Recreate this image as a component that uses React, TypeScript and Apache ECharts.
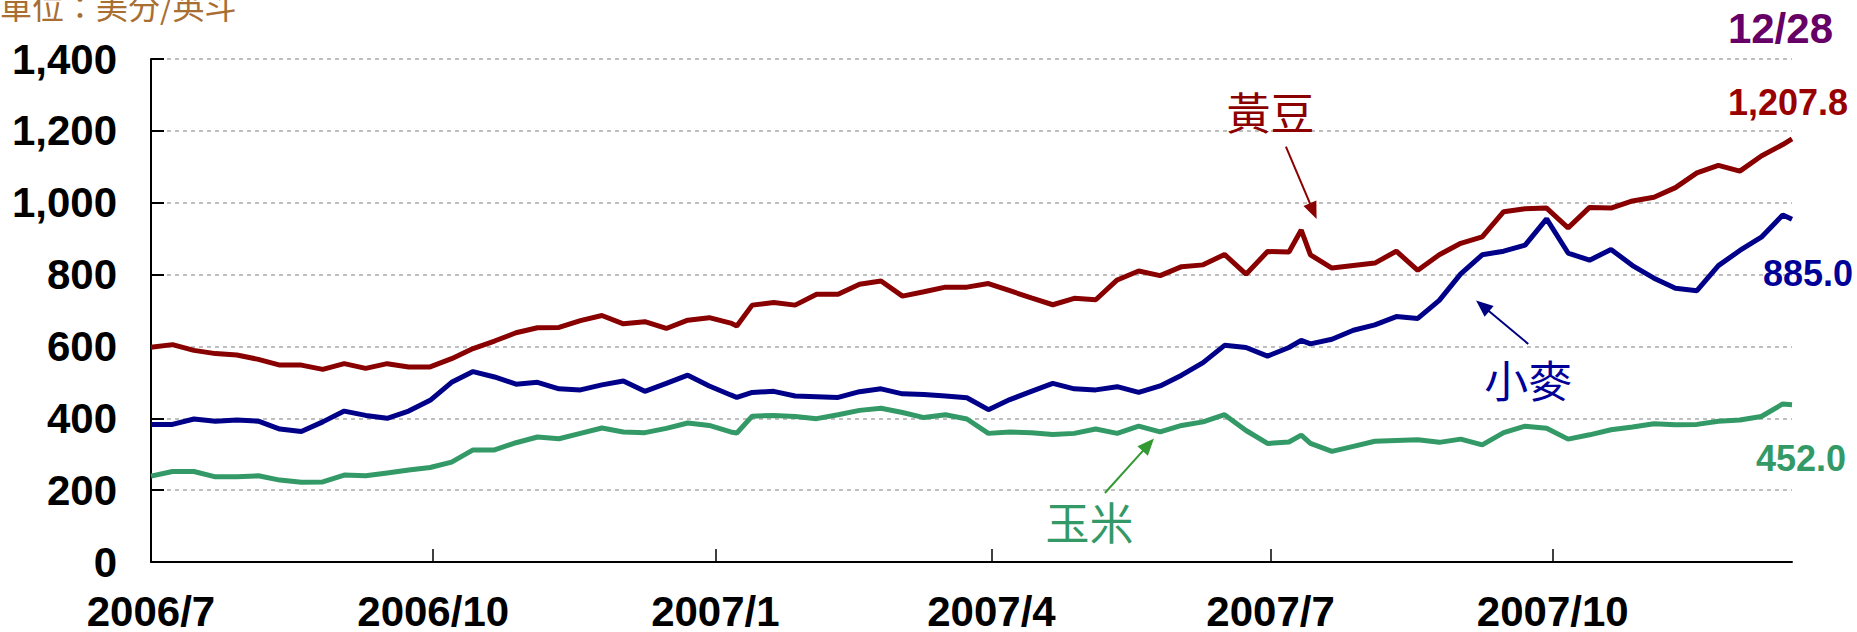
import React, { useEffect, useRef } from "react";
import * as echarts from "echarts";

// ---- data ----
const dates = [
  "2006-07-01", "2006-07-08", "2006-07-15", "2006-07-22", "2006-07-29",
  "2006-08-05", "2006-08-12", "2006-08-19", "2006-08-26",
  "2006-09-02", "2006-09-09", "2006-09-16", "2006-09-23", "2006-09-30",
  "2006-10-07", "2006-10-14", "2006-10-21", "2006-10-28",
  "2006-11-04", "2006-11-11", "2006-11-18", "2006-11-25",
  "2006-12-02", "2006-12-09", "2006-12-16", "2006-12-23", "2006-12-30",
  "2007-01-06", "2007-01-08", "2007-01-13", "2007-01-20", "2007-01-27",
  "2007-02-03", "2007-02-10", "2007-02-17", "2007-02-24",
  "2007-03-03", "2007-03-10", "2007-03-17", "2007-03-24", "2007-03-31",
  "2007-04-07", "2007-04-14", "2007-04-21", "2007-04-28",
  "2007-05-05", "2007-05-12", "2007-05-19", "2007-05-26",
  "2007-06-02", "2007-06-09", "2007-06-16", "2007-06-23", "2007-06-30",
  "2007-07-07", "2007-07-11", "2007-07-14", "2007-07-21", "2007-07-28",
  "2007-08-04", "2007-08-11", "2007-08-18", "2007-08-25",
  "2007-09-01", "2007-09-08", "2007-09-15", "2007-09-22", "2007-09-29",
  "2007-10-06", "2007-10-13", "2007-10-20", "2007-10-27",
  "2007-11-03", "2007-11-10", "2007-11-17", "2007-11-24",
  "2007-12-01", "2007-12-08", "2007-12-15", "2007-12-18",
];

const soybean = [
  598, 605, 589, 580, 576,
  564, 548, 548, 536,
  552, 539, 552, 543, 543,
  566, 594, 615, 638,
  652, 653, 672, 686,
  663, 669, 650, 673, 680,
  665, 657, 715, 722, 715,
  745, 745, 773, 782,
  740, 752, 765, 765, 775,
  755, 735, 716, 734,
  730, 785, 810, 797,
  822, 827, 856, 801, 864,
  863, 924, 855, 818, 825,
  832, 865, 812, 855,
  887, 905, 975, 983, 985,
  930, 987, 985, 1005,
  1015, 1042, 1083, 1104,
  1088, 1130, 1162, 1178,
];

const wheat = [
  383, 383, 398, 392, 395,
  392, 370, 363, 390,
  420, 408, 400, 420, 450,
  500, 530, 515, 495,
  500, 482, 479, 493,
  504, 475, 497, 520, 490,
  465, 458, 472, 475, 462,
  460, 458, 474, 482,
  468, 466, 462, 457, 424,
  452, 475, 497, 482,
  479, 488, 472, 490,
  520, 555, 603, 597, 573,
  597, 617, 607, 620, 645,
  660, 683, 678, 728,
  802, 855, 865, 882, 955,
  860, 840, 870, 825,
  790, 762, 755, 825,
  867, 904, 966, 954,
];

const corn = [
  239, 252, 252, 237, 237,
  240, 228, 222, 223,
  242, 240, 248, 256, 263,
  278, 312, 312, 332,
  348, 343, 358, 373,
  362, 360, 372, 387, 380,
  362, 359, 406, 408, 405,
  399, 410, 422, 428,
  416, 402, 410, 398, 358,
  362, 360, 355, 358,
  370, 358, 378, 362,
  380, 390, 410, 366, 330,
  334, 353, 330, 308, 322,
  336, 338, 340, 333,
  342, 326, 360, 378, 372,
  342, 354, 368, 376,
  385, 382, 383, 392,
  395, 405, 440, 438,
];

const xTickDates = ["2006-07-01", "2006-10-01", "2007-01-01", "2007-04-01", "2007-07-01", "2007-10-01"];
const yMin = 0;
const yMax = 1400;
const yStep = 200;

const unitText = "單位：美分/英斗";
const lastDateText = "12/28";
const soybeanLast = "1,207.8";
const wheatLast = "885.0";
const cornLast = "452.0";

const seriesNames = ["玉米", "小麥", "黃豆"];
const seriesColors = ["#339966", "#000088", "#880000"];

// annotation anchors in data space: label centre, arrow tail, arrow tip
const annoLabels = ["黃豆", "小麥", "玉米"];
const annoColors = ["#8B0000", "#000099", "#339966"];
const annoArrowColors = ["#8B0000", "#000080", "#339933"];
const annoTextDates = ["2007-07-01", "2007-09-23", "2007-05-03"];
const annoTextValues = [1256, 510, 115];
const annoTailDates = ["2007-07-06", "2007-09-23", "2007-05-08"];
const annoTailValues = [1156, 607, 192];
const annoTipDates = ["2007-07-16", "2007-09-06", "2007-05-24"];
const annoTipValues = [955, 728, 344];

const toTs = (s: string) => {
  const [y, m, d] = s.split("-").map(Number);
  return Date.UTC(y, m - 1, d);
};

const fmtThousands = (v: number) => {
  const s = String(Math.round(v));
  return s.replace(/\B(?=(\d{3})+(?!\d))/g, ",");
};

const LATIN = 'Arial, "Liberation Sans", Helvetica, sans-serif';
const CJK = '"Noto Sans CJK TC", "Noto Sans CJK SC", sans-serif';

export default function App() {
  const ref = useRef<HTMLDivElement>(null);

  useEffect(() => {
    document.body.style.margin = "0";
    if (!ref.current) return;
    const chart = echarts.init(ref.current, undefined, { renderer: "svg" });
    const tickTs = xTickDates.map(toTs);
    const seriesData = [corn, wheat, soybean].map((arr) =>
      arr.map((v, i) => [toTs(dates[i]), v])
    );

    chart.setOption({
      animation: false,
      backgroundColor: "#ffffff",
      grid: { left: 151, top: 59, width: 1641, height: 508 },
      xAxis: {
        type: "value",
        min: toTs(dates[0]),
        max: toTs(dates[dates.length - 1]),
        axisLine: { show: true, onZero: false, lineStyle: { color: "#000", width: 2 } },
        axisTick: {
          show: true,
          inside: true,
          length: 13,
          customValues: tickTs,
          lineStyle: { color: "#000", width: 1.5 },
        },
        axisLabel: {
          customValues: tickTs,
          hideOverlap: false,
          fontSize: 42,
          fontWeight: "bold",
          fontFamily: LATIN,
          color: "#000",
          margin: 34,
          lineHeight: 30,
          formatter: (v: number) => {
            const d = new Date(v);
            return `${d.getUTCFullYear()}/${d.getUTCMonth() + 1}`;
          },
        },
        splitLine: { show: false },
      },
      yAxis: {
        type: "value",
        min: yMin,
        max: yMax,
        interval: yStep,
        axisLine: { show: true, lineStyle: { color: "#000", width: 2 } },
        axisTick: { show: true, inside: true, length: 13, lineStyle: { color: "#000", width: 2 } },
        axisLabel: {
          fontSize: 42,
          fontWeight: "bold",
          fontFamily: LATIN,
          color: "#000",
          margin: 34,
          formatter: (v: number) => fmtThousands(v),
        },
        splitLine: { show: true, lineStyle: { color: "#BFBFBF", width: 2, type: [4, 4] } },
      },
      series: seriesData.map((data, i) => ({
        name: seriesNames[i],
        type: "line",
        data,
        symbol: "none",
        smooth: false,
        lineStyle: { color: seriesColors[i], width: 5 },
        itemStyle: { color: seriesColors[i] },
        z: 2 + i,
      })),
    });

    const px = (date: string, v: number) =>
      chart.convertToPixel({ gridIndex: 0 }, [toTs(date), v]) as number[];

    const graphics: any[] = [];
    annoLabels.forEach((label, i) => {
      const c = px(annoTextDates[i], annoTextValues[i]);
      graphics.push({
        type: "text",
        x: c[0],
        y: c[1],
        style: {
          text: label,
          fill: annoColors[i],
          font: `44px ${CJK}`,
          textAlign: "center",
          textVerticalAlign: "middle",
        },
        z: 10,
      });
      const t = px(annoTailDates[i], annoTailValues[i]);
      const h = px(annoTipDates[i], annoTipValues[i]);
      const dx = h[0] - t[0];
      const dy = h[1] - t[1];
      const len = Math.sqrt(dx * dx + dy * dy);
      const ux = dx / len;
      const uy = dy / len;
      const L = 17;
      const W = 7;
      const bx = h[0] - ux * L;
      const by = h[1] - uy * L;
      graphics.push({
        type: "line",
        shape: { x1: t[0], y1: t[1], x2: bx + ux * 2, y2: by + uy * 2 },
        style: { stroke: annoArrowColors[i], lineWidth: 2 },
        z: 10,
      });
      graphics.push({
        type: "polygon",
        shape: {
          points: [
            [h[0], h[1]],
            [bx - uy * W, by + ux * W],
            [bx + uy * W, by - ux * W],
          ],
        },
        style: { fill: annoArrowColors[i] },
        z: 10,
      });
    });

    graphics.push(
      {
        type: "text",
        x: 0,
        y: 5,
        style: {
          text: unitText,
          fill: "#A86E32",
          font: `32px ${CJK}`,
          textAlign: "left",
          textVerticalAlign: "middle",
        },
      },
      {
        type: "text",
        x: 1833,
        y: 28,
        style: {
          text: lastDateText,
          fill: "#660066",
          font: `bold 42px ${LATIN}`,
          textAlign: "right",
          textVerticalAlign: "middle",
        },
      },
      {
        type: "text",
        x: 1848,
        y: 102,
        style: {
          text: soybeanLast,
          fill: "#990000",
          font: `bold 36px ${LATIN}`,
          textAlign: "right",
          textVerticalAlign: "middle",
        },
      },
      {
        type: "text",
        x: 1853,
        y: 273,
        style: {
          text: wheatLast,
          fill: "#000099",
          font: `bold 36px ${LATIN}`,
          textAlign: "right",
          textVerticalAlign: "middle",
        },
      },
      {
        type: "text",
        x: 1846,
        y: 458,
        style: {
          text: cornLast,
          fill: "#339966",
          font: `bold 36px ${LATIN}`,
          textAlign: "right",
          textVerticalAlign: "middle",
        },
      }
    );

    chart.setOption({ graphic: graphics });

    return () => chart.dispose();
  }, []);

  return (
    <div
      ref={ref}
      style={{ position: "absolute", left: 0, top: 0, width: 1857, height: 632 }}
    />
  );
}
